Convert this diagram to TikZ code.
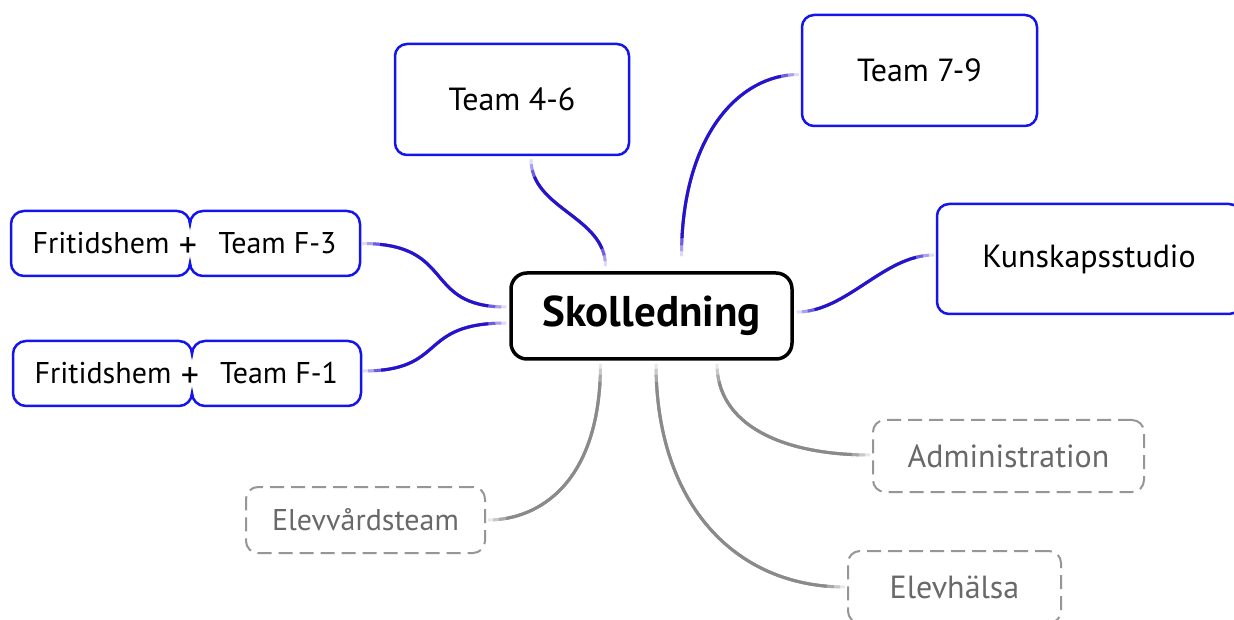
\documentclass[tikz,border=0pt]{standalone}
\usepackage{fontspec}
\setmainfont{PT Sans}
\usetikzlibrary{calc,decorations.markings}
\definecolor{boxblue}{RGB}{20,20,235}
\definecolor{cblue}{RGB}{38,20,205}
\definecolor{cblueN}{RGB}{110,95,225}
\definecolor{cblueM}{RGB}{170,160,240}
\definecolor{cblueL}{RGB}{222,219,250}
\definecolor{cgray}{RGB}{138,138,138}
\definecolor{cgrayN}{RGB}{168,168,168}
\definecolor{cgrayM}{RGB}{200,200,200}
\definecolor{cgrayL}{RGB}{232,232,232}
\definecolor{dashgray}{RGB}{150,150,150}
\definecolor{textgray}{RGB}{105,105,105}
\newcommand\mmconn[5]{%
  \path[decoration={markings,mark=at position 0.5 with {\pgfmathparse{\pgfdecoratedpathlength}\xdef\mmlen{\pgfmathresult}}},decorate]
     #2 .. controls #3 and #4 .. #5;
  \pgfmathsetmacro\mmA{\mmlen-10}%
  \pgfmathsetmacro\mmB{\mmlen-22}%
  \pgfmathsetmacro\mmC{\mmlen-36}%
  \draw[#1L,line width=3pt] #2 .. controls #3 and #4 .. #5;
  \draw[#1M,line width=3pt,dash pattern=on 0pt off 5pt on \mmA pt off 300pt] #2 .. controls #3 and #4 .. #5;
  \draw[#1N,line width=3pt,dash pattern=on 0pt off 11pt on \mmB pt off 300pt] #2 .. controls #3 and #4 .. #5;
  \draw[#1,line width=3pt,dash pattern=on 0pt off 18pt on \mmC pt off 300pt] #2 .. controls #3 and #4 .. #5;}
\newcommand\fritbox[4]{% L M R T
  \draw[boxblue,line width=2.5pt]
   (#2,#4-13) arc[start angle=0,end angle=90,radius=13]
   -- (#1+13,#4) arc[start angle=90,end angle=180,radius=13]
   -- (#1,#4-65+13) arc[start angle=180,end angle=270,radius=13]
   -- (#2-13,#4-65) arc[start angle=270,end angle=360,radius=13]
   arc[start angle=180,end angle=270,radius=13]
   -- (#3-13,#4-65) arc[start angle=270,end angle=360,radius=13]
   -- (#3,#4-13) arc[start angle=0,end angle=90,radius=13]
   -- (#2+13,#4) arc[start angle=90,end angle=180,radius=13] -- cycle;}
\tikzset{
  txt/.style={font=\fontsize{32}{38}\selectfont},
  ftxt/.style={font=\fontsize{30}{36}\selectfont},
  plus/.style={font=\fontsize{36}{40}\selectfont},
  bluebox/.style={txt,draw=boxblue,line width=2.5pt,rounded corners=12pt,fill=white,text=black,inner sep=0pt},
  graybox/.style={txt,draw=dashgray,line width=2pt,dash pattern=on 14pt off 7pt,rounded corners=12pt,fill=white,text=textgray,inner sep=0pt},
  centerbox/.style={draw=black,line width=3.5pt,rounded corners=16pt,fill=white,inner sep=0pt,font=\fontsize{43}{50}\selectfont\bfseries},
  ghost/.style={inner sep=0pt,draw=none}
}
\begin{document}
\begin{tikzpicture}[x=1pt,y=1pt]
\useasboundingbox (0,0) rectangle (1234,619);
\fill[white] (0,0) rectangle (1234,619);
% boxes
\node[centerbox,minimum width=281pt,minimum height=86pt] (sk) at (651.5,303) {Skolledning};
\node[bluebox,minimum width=234pt,minimum height=111pt] (t46) at (512,519.5) {Team 4-6};
\node[bluebox,minimum width=235pt,minimum height=111pt] (t79) at (919.5,548.5) {Team 7-9};
\node[bluebox,minimum width=304pt,minimum height=110pt] (ks) at (1089,360) {Kunskapsstudio};
\node[graybox,minimum width=271pt,minimum height=72pt] (ad) at (1008.5,163) {Administration};
\node[graybox,minimum width=239pt,minimum height=66pt,font=\fontsize{30}{36}\selectfont] (ev) at (365.5,99) {Elevvårdsteam};
\node[graybox,minimum width=213pt,minimum height=72pt] (eh) at (954.5,32) {Elevhälsa};
% Fritidshem groups
\fritbox{11}{190}{360}{408}
\node[ghost,minimum width=349pt,minimum height=65pt] (f3) at (185.5,375.5) {};
\node[ftxt] (f3a) at (101,376) {Fritidshem};
\node[plus] (f3p) at (188,371) {+};
\node[ftxt] (f3b) at (277.5,376) {Team F-3};
\fritbox{13}{192}{361}{278}
\node[ghost,minimum width=348pt,minimum height=65pt] (f1) at (187,245.5) {};
\node[ftxt] (f1a) at (103,246) {Fritidshem};
\node[plus] (f1p) at (190,241) {+};
\node[ftxt] (f1b) at (279,246) {Team F-1};
% connectors
\mmconn{cblue}{([xshift=19pt,yshift=-3pt]t46.south)}{+(0,-50)}{+(0,50)}{([xshift=-46pt,yshift=5pt]sk.north)}
\mmconn{cblue}{([xshift=30pt,yshift=15pt]sk.north)}{+(0,120)}{+(-60,0)}{([xshift=-2pt,yshift=-4pt]t79.west)}
\mmconn{cblue}{([xshift=3pt,yshift=4pt]sk.east)}{+(50,0)}{+(-50,0)}{([xshift=-2pt,yshift=4pt]ks.west)}
\mmconn{cblue}{([xshift=2pt]f3.east)}{+(95,0)}{+(-85,0)}{([xshift=-3pt,yshift=9pt]sk.west)}
\mmconn{cblue}{([xshift=2pt,yshift=2.5pt]f1.east)}{+(85,0)}{+(-90,0)}{([xshift=-3pt,yshift=-7pt]sk.west)}
\mmconn{cgray}{([xshift=-51pt,yshift=-3pt]sk.south)}{+(0,-120)}{+(50,0)}{([xshift=2pt]ev.east)}
\mmconn{cgray}{([xshift=4.5pt,yshift=-3pt]sk.south)}{+(0,-140)}{+(-110,0)}{([xshift=-2pt]eh.west)}
\mmconn{cgray}{([xshift=65.5pt,yshift=-3pt]sk.south)}{+(0,-60)}{+(-90,0)}{([xshift=-2pt,yshift=1pt]ad.west)}
\end{tikzpicture}
\end{document}
